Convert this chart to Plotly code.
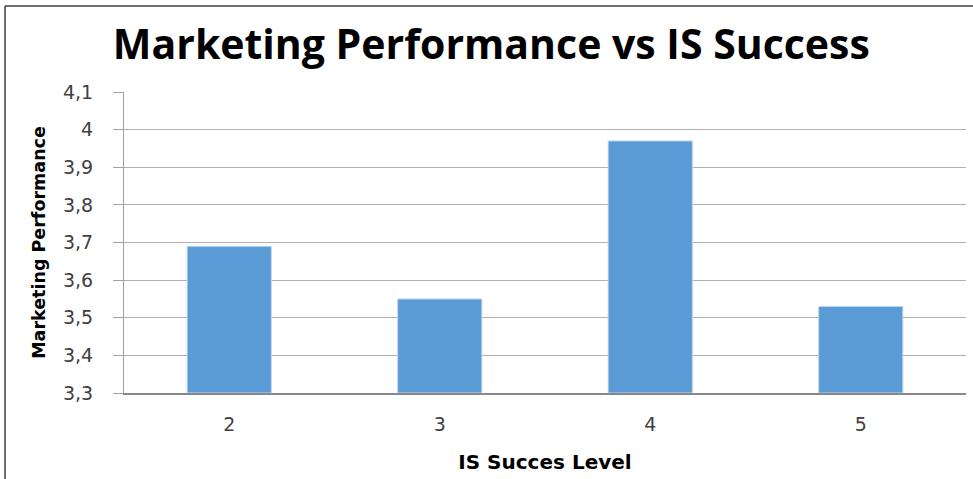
import plotly.graph_objects as go

levels = ['2', '3', '4', '5']
performance = [3.69, 3.55, 3.97, 3.53]
y_ticks = [3.3, 3.4, 3.5, 3.6, 3.7, 3.8, 3.9, 4.0, 4.1]

_BAR_BLUE = '#5B9BD5'
_GRID = '#b0b0b0'
_TEXT = '#404040'

fig = go.Figure()
fig.add_trace(go.Bar(
    x=levels,
    y=[v - 3.3 for v in performance],
    base=3.3,
    marker=dict(color=_BAR_BLUE, line=dict(color='#bdd7ee', width=1)),
    width=0.4,
    showlegend=False,
))

fig.update_layout(
    width=973, height=479,
    paper_bgcolor='white', plot_bgcolor='white',
    separators=', ',
    margin=dict(l=124, r=7, t=92, b=86, autoexpand=False),
    title=dict(
        text='<b>Marketing Performance vs IS Success</b>',
        font=dict(family='Open Sans', size=41, color='black'),
        x=0.505, xref='container', xanchor='center',
        yref='container', y=0.906, yanchor='middle',
    ),
    xaxis=dict(
        type='category',
        range=[-0.5, 3.5],
        showgrid=False,
        showline=True, linecolor='#888888', linewidth=2,
        ticks='',
        ticklabelstandoff=13,
        tickfont=dict(family='DejaVu Sans', size=19, color=_TEXT),
        title=dict(text='<b>IS Succes Level</b>',
                   font=dict(family='DejaVu Sans', size=20, color='black'),
                   standoff=21),
    ),
    yaxis=dict(
        range=[3.3, 4.1],
        tickvals=y_ticks,
        tickformat='.1~f',
        showgrid=True, gridcolor=_GRID, gridwidth=1,
        showline=True, linecolor='#a0a0a0', linewidth=1,
        ticks='outside', ticklen=10, tickcolor='#a0a0a0',
        ticklabelstandoff=16,
        tickfont=dict(family='DejaVu Sans', size=19, color=_TEXT),
        zeroline=False,
        title=dict(text='<b>Marketing Performance</b>',
                   font=dict(family='DejaVu Sans', size=17.5, color='black'),
                   standoff=12),
    ),
    shapes=[
        dict(type='line', xref='paper', yref='paper', x0=-0.1413, x1=1.01, y0=1.2857, y1=1.2857,
             line=dict(color='#404040', width=1.5)),
        dict(type='line', xref='paper', yref='paper', x0=-0.1413, x1=-0.1413, y0=1.2857, y1=-0.3,
             line=dict(color='#404040', width=1.5)),
    ],
)

fig.write_html('out.html', config={'displayModeBar': False},
               post_script="document.body.style.margin='0';")
